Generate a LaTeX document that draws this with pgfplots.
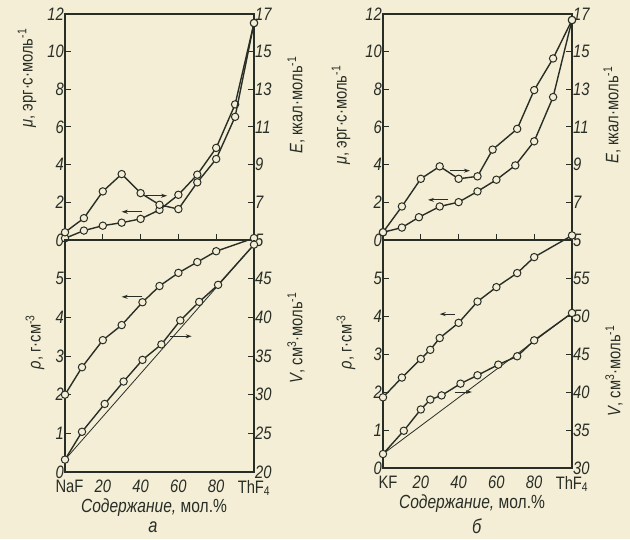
\documentclass[border=0pt]{standalone}
\usepackage{fontspec}
\setmainfont{Liberation Sans}[FakeStretch=0.82]
\usepackage{pgfplots}
\pgfplotsset{compat=1.18}
\usetikzlibrary{arrows.meta}
\definecolor{bg}{RGB}{244,238,214}
\definecolor{ink}{RGB}{40,46,38}
\pgfplotsset{
  panel/.style={scale only axis, width=189pt, xmin=0, xmax=100, clip=false,
    axis line style={draw=ink, line width=1.3pt},
    tick align=inside, major tick length=6pt,
    tick style={draw=ink, line width=1pt},
    /pgf/number format/assume math mode=true,
    tick label style={font=\fontsize{18}{18}\selectfont\itshape, text=ink},
    yticklabel style={inner sep=1pt},
    xticklabel style={yshift=-8pt, inner sep=0pt},
  },
  cur/.style={draw=ink, line width=1.4pt, mark=*, mark size=3.7pt,
    mark options={fill=bg, draw=ink, line width=1pt}},
  addl/.style={draw=ink, line width=0.8pt, mark=none},
}
\tikzset{arr/.style={draw=ink, line width=1pt, -{Stealth[length=6pt,width=4pt]}}}
\newcommand{\lab}{\fontsize{18}{18}\selectfont}
\begin{document}
\begin{tikzpicture}
\fill[bg] (0,0) rectangle (630pt,539pt);

% ---------- left top (NaF-ThF4): mu and E
\begin{axis}[panel, at={(65pt,299pt)}, anchor=south west, height=226pt,
  ymin=0, ymax=12, ytick={0,2,...,12}, ytick pos=left,
  xtick={20,40,60,80}, xticklabels={}, xtick pos=bottom]
\addplot[cur] coordinates {(0,0.09)(10,0.50)(20,0.76)(30,0.92)(40,1.12)(50,1.6)(60,2.4)(70,3.47)(80,4.89)(90,7.2)(100,11.52)};
\draw[arr] (axis cs:43,2.35) -- (axis cs:54,2.35);
\draw[arr] (axis cs:41,1.5) -- (axis cs:30,1.5);
\end{axis}
\begin{axis}[panel, at={(65pt,299pt)}, anchor=south west, height=226pt,
  ymin=5, ymax=17, ytick={5,7,...,17}, axis y line*=right, axis x line=none]
\addplot[cur] coordinates {(0,5.41)(10,6.16)(20,7.58)(30,8.50)(40,7.49)(50,6.87)(60,6.64)(70,8.06)(80,9.30)(90,11.54)(100,16.52)};
\end{axis}

% ---------- left bottom: rho and V
\begin{axis}[panel, at={(65pt,67pt)}, anchor=south west, height=232pt,
  ymin=0, ymax=6, ytick={0,...,5}, ytick pos=left,
  xtick={0,20,40,60,80,100}, xtick style={draw=none},
  xticklabels={{\upshape\hspace*{9pt}NaF},20,40,60,80,{\upshape ThF\textsubscript{4}}}]
\addplot[cur] coordinates {(0,2.0)(9,2.71)(20,3.41)(30,3.80)(41,4.39)(50,4.81)(60,5.15)(70,5.43)(80,5.71)(100,6.05)};
\draw[arr] (axis cs:41,4.53) -- (axis cs:30,4.53);
\draw[arr] (axis cs:55.5,3.51) -- (axis cs:67,3.51);
\end{axis}
\begin{axis}[panel, at={(65pt,67pt)}, anchor=south west, height=232pt,
  ymin=20, ymax=50, ytick={20,25,...,45}, axis y line*=right, axis x line=none]
\addplot[addl] coordinates {(0,21.6)(100,49.4)};
\addplot[cur] coordinates {(0,21.6)(9,25.2)(21,28.8)(31,31.7)(41,34.5)(51,36.5)(61,39.6)(71,42.0)(81,44.2)(100,49.4)};
\end{axis}

% ---------- right top (KF-ThF4): mu and E
\begin{axis}[panel, at={(383pt,299pt)}, anchor=south west, height=226pt,
  ymin=0, ymax=12, ytick={0,2,...,12}, ytick pos=left,
  xtick={20,40,60,80}, xticklabels={}, xtick pos=bottom]
\addplot[cur] coordinates {(0,0.41)(10,0.66)(19,1.21)(30,1.78)(40,2.01)(50,2.58)(60,3.2)(70,3.96)(80,5.24)(90,7.59)(100,11.68)};
\draw[arr] (axis cs:35.4,3.68) -- (axis cs:46,3.68);
\draw[arr] (axis cs:34.4,2.13) -- (axis cs:23.8,2.13);
\end{axis}
\begin{axis}[panel, at={(383pt,299pt)}, anchor=south west, height=226pt,
  ymin=5, ymax=17, ytick={5,7,...,17}, axis y line*=right, axis x line=none]
\addplot[cur] coordinates {(0,5.41)(10,6.78)(20,8.25)(30,8.91)(40,8.25)(50,8.38)(58,9.8)(71,10.9)(80,12.96)(90,14.64)(100,16.68)};
\end{axis}

% ---------- right bottom: rho and V
\begin{axis}[panel, at={(383pt,71pt)}, anchor=south west, height=228pt,
  ymin=0, ymax=6, ytick={0,...,5}, ytick pos=left,
  xtick={0,20,40,60,80,100}, xtick style={draw=none},
  xticklabels={{\upshape\hspace*{10pt}KF},20,40,60,80,{\upshape ThF\textsubscript{4}}}]
\addplot[cur] coordinates {(0,1.86)(10,2.38)(20,2.87)(25,3.11)(30,3.42)(40,3.82)(50,4.38)(60,4.76)(71,5.13)(80,5.55)(100,6.12)};
\draw[arr] (axis cs:38,4.05) -- (axis cs:30,4.05);
\draw[arr] (axis cs:38,2.0) -- (axis cs:47,2.0);
\end{axis}
\begin{axis}[panel, at={(383pt,71pt)}, anchor=south west, height=228pt,
  ymin=30, ymax=60, ytick={30,35,...,55}, axis y line*=right, axis x line=none]
\addplot[addl] coordinates {(0,31.84)(100,50.4)};
\addplot[cur] coordinates {(0,31.84)(11,34.9)(20,37.7)(25,39.0)(31,39.55)(41,41.1)(50,42.2)(61,43.6)(71,44.7)(80,46.8)(100,50.4)};
\end{axis}

% ---------- axis titles
\begin{scope}[every node/.style={text=ink}]
\node[rotate=90, font=\lab] at (27pt,461pt) {\textit{μ}, эрг·с·моль\textsuperscript{-1}};
\node[rotate=90, font=\lab] at (296pt,434pt) {\textit{E}, ккал·моль\textsuperscript{-1}};
\node[rotate=90, font=\lab] at (35pt,197pt) {\textit{ρ}, г·см\textsuperscript{-3}};
\node[rotate=90, font=\lab] at (296pt,201pt) {\textit{V}, см\textsuperscript{3}·моль\textsuperscript{-1}};
\node[rotate=90, font=\lab] at (341pt,424pt) {\textit{μ}, эрг·с·моль\textsuperscript{-1}};
\node[rotate=90, font=\lab] at (612pt,424pt) {\textit{E}, ккал·моль\textsuperscript{-1}};
\node[rotate=90, font=\lab] at (346pt,197pt) {\textit{ρ}, г·см\textsuperscript{-3}};
\node[rotate=90, font=\lab] at (614pt,168pt) {\textit{V}, см\textsuperscript{3}·моль\textsuperscript{-1}};
\node[font=\fontsize{19}{19}\selectfont, inner sep=0pt] at (154pt,31pt) {\textit{Содержание,} мол.\%};
\node[font=\fontsize{19}{19}\selectfont, inner sep=0pt] at (472pt,35pt) {\textit{Содержание,} мол.\%};
\node[font=\fontsize{20}{20}\selectfont, inner sep=0pt] at (153pt,12pt) {\textit{а}};
\node[font=\fontsize{20}{20}\selectfont, inner sep=0pt] at (477pt,13pt) {\textit{б}};
\end{scope}
\pgfresetboundingbox
\useasboundingbox (0,0) rectangle (630pt,539pt);
\end{tikzpicture}
\end{document}
